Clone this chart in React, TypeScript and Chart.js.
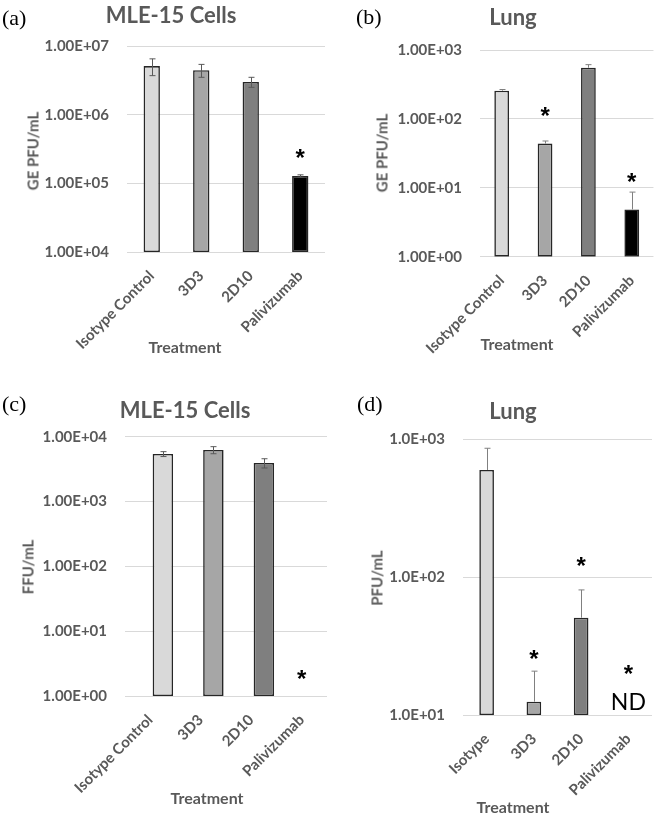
import React, { useEffect, useRef } from "react";
import { Chart, registerables } from "chart.js";
Chart.register(...registerables);

const FONT = "Lato, 'Open Sans', sans-serif";
const TEXT = "#595959";
const GRID = "#d9d9d9";

// ---------- data ----------
const categoriesLong = ["Isotype Control", "3D3", "2D10", "Palivizumab"];
const categoriesShort = ["Isotype", "3D3", "2D10", "Palivizumab"];
const barColors = ["#d9d9d9", "#a6a6a6", "#7f7f7f", "#000000"];

// (a) MLE-15 cells, GE PFU/mL
const valuesA = [5.1e6, 4.45e6, 3.0e6, 1.28e5];
const errorsA = [1.4e6, 0.95e6, 0.5e6, 5e3];
const starsA = [null, null, null, 2.6e5];
const tickValuesA = [1e4, 1e5, 1e6, 1e7];
const tickLabelsA = ["1.00E+04", "1.00E+05", "1.00E+06", "1.00E+07"];

// (b) Lung, GE PFU/mL
const valuesB = [257, 43.8, 553, 4.86];
const errorsB = [10, 4, 60, 3.8];
const starsB = [null, 125, null, 13.8];
const tickValuesB = [1, 10, 100, 1000];
const tickLabelsB = ["1.00E+00", "1.00E+01", "1.00E+02", "1.00E+03"];

// (c) MLE-15 cells, FFU/mL
const valuesC = [5410, 6240, 3930, null];
const errorsC = [470, 780, 640, null];
const starsC = [null, null, null, 2.1];
const tickValuesC = [1, 10, 100, 1000, 10000];
const tickLabelsC = ["1.00E+00", "1.00E+01", "1.00E+02", "1.00E+03", "1.00E+04"];

// (d) Lung, PFU/mL
const valuesD = [599, 12.5, 50.8, null];
const errorsD = [262, 8.3, 30, null];
const starsD = [null, 27.2, 127, 21.2];
const ndD = [null, null, null, 12.4];
const tickValuesD = [10, 100, 1000];
const tickLabelsD = ["1.0E+01", "1.0E+02", "1.0E+03"];

type Panel = {
  key: string;
  left: number; top: number; w: number; h: number;
  yWidth: number; padTop: number; padRight: number; xHeight: number;
  categories: string[];
  values: (number | null)[];
  errors: (number | null)[];
  stars: (number | null)[];
  nd?: (number | null)[];
  tickValues: number[];
  tickLabels: string[];
  emptyFirst: boolean;
  barPct: number;
  errColor: string;
  both: boolean;
  tag: string; tagX: number; tagY: number;
  title: string; titleX: number; titleY: number;
  yTitle: string; yTitleX: number; yTitleY: number;
  xTitleX: number; xTitleY: number;
};

const panels: Panel[] = [
  {
    key: "a", left: 0, top: 0, w: 330, h: 360,
    yWidth: 127, padTop: 46, padRight: 5, xHeight: 108,
    categories: categoriesLong, values: valuesA, errors: errorsA, stars: starsA,
    tickValues: tickValuesA, tickLabels: tickLabelsA, emptyFirst: false, barPct: 0.33,
    errColor: "#595959", both: true,
    tag: "(a)", tagX: 2, tagY: 18, title: "MLE-15 Cells", titleX: 171, titleY: 15,
    yTitle: "GE PFU/mL", yTitleX: 33, yTitleY: 151, xTitleX: 185, xTitleY: 347,
  },
  {
    key: "b", left: 330, top: 0, w: 330, h: 360,
    yWidth: 150, padTop: 50, padRight: 4, xHeight: 103.3,
    categories: categoriesLong, values: valuesB, errors: errorsB, stars: starsB,
    tickValues: tickValuesB, tickLabels: tickLabelsB, emptyFirst: false, barPct: 0.34,
    errColor: "#808080", both: false,
    tag: "(b)", tagX: 356, tagY: 17, title: "Lung", titleX: 513, titleY: 17,
    yTitle: "GE PFU/mL", yTitleX: 382, yTitleY: 153, xTitleX: 517, xTitleY: 344,
  },
  {
    key: "c", left: 0, top: 380, w: 330, h: 437,
    yWidth: 125, padTop: 56.7, padRight: 3, xHeight: 121,
    categories: categoriesLong, values: valuesC, errors: errorsC, stars: starsC,
    tickValues: tickValuesC, tickLabels: tickLabelsC, emptyFirst: true, barPct: 0.81,
    errColor: "#595959", both: true,
    tag: "(c)", tagX: 2, tagY: 404, title: "MLE-15 Cells", titleX: 185, titleY: 410,
    yTitle: "FFU/mL", yTitleX: 28, yTitleY: 567, xTitleX: 207, xTitleY: 798,
  },
  {
    key: "d", left: 330, top: 380, w: 330, h: 437,
    yWidth: 133, padTop: 59.3, padRight: 8, xHeight: 102,
    categories: categoriesShort, values: valuesD, errors: errorsD, stars: starsD, nd: ndD,
    tickValues: tickValuesD, tickLabels: tickLabelsD, emptyFirst: false, barPct: 0.31,
    errColor: "#808080", both: false,
    tag: "(d)", tagX: 357, tagY: 404, title: "Lung", titleX: 513, titleY: 411,
    yTitle: "PFU/mL", yTitleX: 377, yTitleY: 578, xTitleX: 513, xTitleY: 807,
  },
];

function makeMarks(p: Panel) {
  return {
    id: "marks_" + p.key,
    afterDatasetsDraw(chart: any) {
      const ctx = chart.ctx;
      const xs = chart.scales.x;
      const ys = chart.scales.y;
      const meta = chart.getDatasetMeta(p.emptyFirst ? 1 : 0);
      ctx.save();
      ctx.strokeStyle = p.errColor;
      ctx.lineWidth = 1;
      p.values.forEach((v, i) => {
        const e = p.errors[i];
        if (v == null || e == null) return;
        const el = meta.data[i];
        const px = Math.round(el.x) + 0.5;
        const top = ys.getPixelForValue(v + e);
        const bot = p.both ? ys.getPixelForValue(Math.max(v - e, ys.min)) : ys.getPixelForValue(v);
        ctx.beginPath();
        ctx.moveTo(px, top);
        ctx.lineTo(px, bot);
        ctx.moveTo(px - 3, top);
        ctx.lineTo(px + 3, top);
        if (p.both) {
          ctx.moveTo(px - 3, bot);
          ctx.lineTo(px + 3, bot);
        }
        ctx.stroke();
      });
      ctx.fillStyle = "#000";
      ctx.textAlign = "center";
      ctx.textBaseline = "middle";
      ctx.font = "bold 24px 'Liberation Sans', sans-serif";
      p.stars.forEach((s, i) => {
        if (s == null) return;
        ctx.fillText("*", xs.getPixelForValue(i), ys.getPixelForValue(s) + 5);
      });
      if (p.nd) {
        ctx.font = "23px " + FONT;
        p.nd.forEach((s, i) => {
          if (s == null) return;
          ctx.fillText("ND", xs.getPixelForValue(i), ys.getPixelForValue(s));
        });
      }
      ctx.restore();
    },
  };
}

function PanelChart({ p }: { p: Panel }) {
  const ref = useRef<HTMLCanvasElement | null>(null);
  useEffect(() => {
    if (!ref.current) return;
    const tickFont = { family: FONT, size: 15, weight: "bold" as const };
    const main = {
      data: p.values,
      backgroundColor: barColors,
      borderColor: "#262626",
      borderWidth: 1.6,
      borderSkipped: false,
      categoryPercentage: 1,
      barPercentage: p.barPct,
    };
    const datasets: any[] = p.emptyFirst
      ? [{ data: p.categories.map(() => null), categoryPercentage: 1, barPercentage: p.barPct }, main]
      : [main];
    const chart = new Chart(ref.current, {
      type: "bar",
      data: { labels: p.categories, datasets },
      options: {
        responsive: false,
        animation: false,
        devicePixelRatio: 1,
        layout: { autoPadding: false, padding: { top: p.padTop, right: p.padRight, left: 0, bottom: 0 } },
        plugins: { legend: { display: false }, tooltip: { enabled: false }, title: { display: false } },
        scales: {
          x: {
            type: "category",
            grid: { display: false, drawTicks: false },
            border: { display: false },
            ticks: { maxRotation: 45, minRotation: 45, color: TEXT, font: tickFont, padding: 15, autoSkip: false },
            afterFit: (s: any) => { s.height = p.xHeight; },
          },
          y: {
            type: "logarithmic",
            min: p.tickValues[0],
            max: p.tickValues[p.tickValues.length - 1],
            afterBuildTicks: (s: any) => { s.ticks = p.tickValues.map((v) => ({ value: v })); },
            afterFit: (s: any) => { s.width = p.yWidth; },
            ticks: {
              color: TEXT, font: tickFont, padding: 18, autoSkip: false,
              callback: (_v: any, i: number) => p.tickLabels[i],
            },
            grid: { color: GRID, drawTicks: false, lineWidth: 1 },
            border: { display: false },
          },
        },
      } as any,
      plugins: [makeMarks(p)],
    });
    return () => chart.destroy();
  }, [p]);
  return (
    <canvas
      ref={ref}
      width={p.w}
      height={p.h}
      style={{ position: "absolute", left: p.left, top: p.top, width: p.w, height: p.h }}
    />
  );
}

const abs = (x: number, y: number, extra: React.CSSProperties = {}): React.CSSProperties => ({
  position: "absolute", left: x, top: y, whiteSpace: "nowrap", lineHeight: 1, ...extra,
});

export default function App() {
  return (
    <div style={{ position: "absolute", left: 0, top: 0, width: 660, height: 817, background: "#fff", overflow: "hidden" }}>
      {panels.map((p) => (
        <React.Fragment key={p.key}>
          <PanelChart p={p} />
          <div style={abs(p.tagX, p.tagY, { transform: "translateY(-50%)", fontFamily: "'Liberation Serif', serif", fontSize: 22, color: "#000" })}>{p.tag}</div>
          <div style={abs(p.titleX, p.titleY, { transform: "translate(-50%,-50%)", fontFamily: FONT, fontWeight: 700, fontSize: 22, color: TEXT })}>{p.title}</div>
          <div style={abs(p.yTitleX, p.yTitleY, { transform: "translate(-50%,-50%) rotate(-90deg)", fontFamily: FONT, fontWeight: 700, fontSize: 15, color: TEXT })}>{p.yTitle}</div>
          <div style={abs(p.xTitleX, p.xTitleY, { transform: "translate(-50%,-50%)", fontFamily: FONT, fontWeight: 700, fontSize: 16, color: TEXT })}>Treatment</div>
        </React.Fragment>
      ))}
    </div>
  );
}
